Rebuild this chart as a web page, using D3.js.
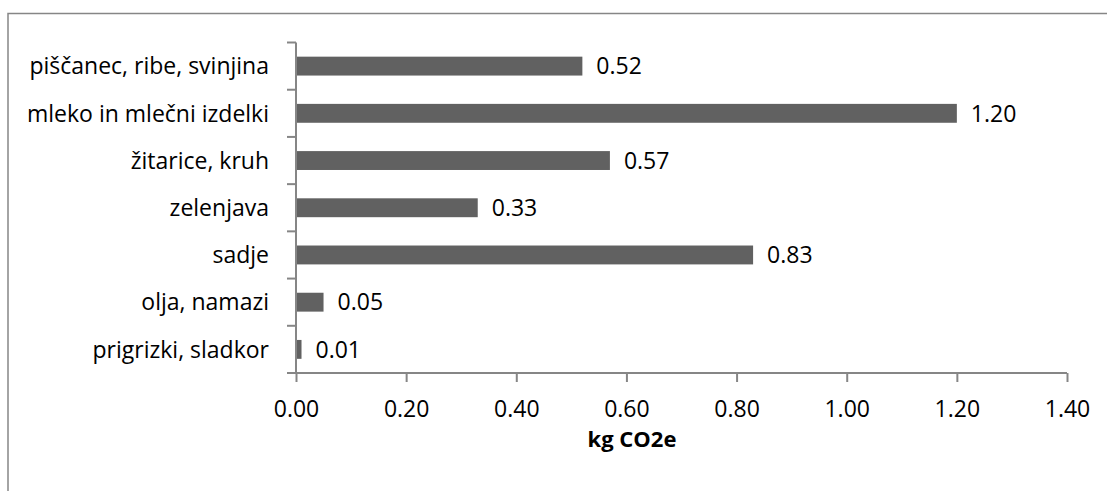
<!DOCTYPE html>
<html>
<head>
<meta charset="utf-8">
<script src="https://cdn.jsdelivr.net/npm/d3@7"></script>
<style>
  html, body { margin: 0; padding: 0; background: #fff; }
  svg { display: block; }
  text { font-family: "Open Sans", "Lato", sans-serif; fill: #000; }
</style>
</head>
<body>
<svg id="chart" width="1107" height="491"></svg>
<script>
// Carbon footprint per food group (kg CO2e)
const categories = [
  "piščanec, ribe, svinjina",
  "mleko in mlečni izdelki",
  "žitarice, kruh",
  "zelenjava",
  "sadje",
  "olja, namazi",
  "prigrizki, sladkor"
];
const values = [0.52, 1.20, 0.57, 0.33, 0.83, 0.05, 0.01];
const xTicks = [0, 0.2, 0.4, 0.6, 0.8, 1.0, 1.2, 1.4];
const xTitle = "kg CO2e";

const svg = d3.select("#chart");
const axisColor = "#868686";
const barColor = "#616161";
const fontSize = 23;

const plot = { left: 296, right: 1067, top: 42.5, bottom: 373 };

// chart frame
svg.append("rect")
  .attr("x", 8).attr("y", 13.5)
  .attr("width", 1130).attr("height", 520)
  .attr("fill", "none")
  .attr("stroke", axisColor)
  .attr("stroke-width", 1.5);

const x = d3.scaleLinear().domain([0, 1.4]).range([plot.left, plot.right]);
const y = d3.scaleBand().domain(categories).range([plot.top, plot.bottom]).paddingInner(0.6).paddingOuter(0.3);

// bars
svg.append("g").selectAll("rect")
  .data(values)
  .join("rect")
  .attr("x", x(0))
  .attr("y", (d, i) => y(categories[i]))
  .attr("width", d => x(d) - x(0))
  .attr("height", y.bandwidth())
  .attr("fill", barColor);

// value labels
svg.append("g").selectAll("text")
  .data(values)
  .join("text")
  .attr("x", d => x(d) + 14)
  .attr("y", (d, i) => y(categories[i]) + y.bandwidth() / 2)
  .attr("dy", "0.36em")
  .attr("font-size", fontSize)
  .text(d => d.toFixed(2));

// y axis: line plus tick marks at category boundaries
const yAxis = svg.append("g");
yAxis.append("line")
  .attr("x1", plot.left).attr("x2", plot.left)
  .attr("y1", plot.top).attr("y2", plot.bottom)
  .attr("stroke", axisColor).attr("stroke-width", 2);
const bounds = d3.range(categories.length + 1).map(i => plot.top + i * (plot.bottom - plot.top) / categories.length);
yAxis.selectAll("line.tick")
  .data(bounds)
  .join("line")
  .attr("class", "tick")
  .attr("x1", plot.left - 9).attr("x2", plot.left)
  .attr("y1", d => d).attr("y2", d => d)
  .attr("stroke", axisColor).attr("stroke-width", 2);

// category labels
svg.append("g").selectAll("text")
  .data(categories)
  .join("text")
  .attr("x", 269)
  .attr("y", d => y(d) + y.bandwidth() / 2)
  .attr("dy", "0.36em")
  .attr("text-anchor", "end")
  .attr("font-size", fontSize)
  .text(d => d);

// x axis
const xAxis = d3.axisBottom(x)
  .tickValues(xTicks)
  .tickSize(9)
  .tickFormat(d3.format(".2f"));
const gx = svg.append("g")
  .attr("transform", `translate(0,${plot.bottom})`)
  .call(xAxis);
gx.select(".domain").attr("stroke", axisColor).attr("stroke-width", 2)
  .attr("d", `M${plot.left},0H${plot.right}`);
gx.selectAll(".tick line").attr("stroke", axisColor).attr("stroke-width", 2);
gx.selectAll(".tick text")
  .attr("y", 44)
  .attr("dy", 0)
  .attr("font-size", fontSize)
  .attr("font-family", "'Open Sans', 'Lato', sans-serif")
  .attr("fill", "#000");

// x axis title
svg.append("text")
  .attr("x", 632)
  .attr("y", 447)
  .attr("text-anchor", "middle")
  .attr("font-size", 22)
  .attr("font-weight", "bold")
  .text(xTitle);
</script>
</body>
</html>
